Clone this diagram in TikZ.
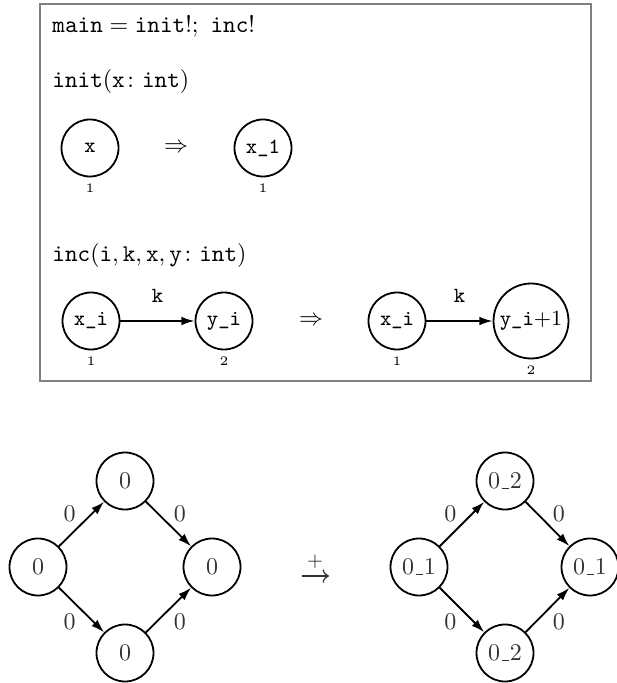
\documentclass[tikz,border=0pt]{standalone}
\usepackage{amsmath}
\usetikzlibrary{arrows.meta}
\newcommand\myus{\leavevmode\kern.06em\vbox{\hrule width.3em height 0.4pt}\kern.04em}
\begin{document}
\begin{tikzpicture}[x=0.41667pt,y=-0.41667pt,
  gnode/.style={circle,draw,line width=0.75pt,minimum size=23.75pt,inner sep=1pt,font=\small\ttfamily},
  dnode/.style={circle,draw,line width=0.75pt,minimum size=23.75pt,inner sep=1pt,text=black!80},
  tag/.style={font=\fontsize{5.4}{6}\selectfont,inner sep=1pt,label distance=1.5pt},
  tip/.style={-{Latex[length=5.5pt,width=3.6pt]},line width=0.75pt},
  elab/.style={text=black!80,inner sep=0pt},
  klab/.style={font=\small\ttfamily,above=3.8pt},
  head/.style={anchor=base west,inner sep=0pt},
]
\useasboundingbox (0,0) rectangle (616,683);
\draw[black!50,line width=0.6pt] (40,4) rectangle (591,381);
% headings
\node[head] (hmain) at (52,33) {$\mathtt{main} = \mathtt{init}!;\ \mathtt{inc}!$};
\node[head] (hinit) at (52,88) {$\mathtt{init}(\mathtt{x}\colon \mathtt{int})$};
\node[head] (hinc) at (52,262) {$\mathtt{inc}(\mathtt{i},\mathtt{k},\mathtt{x},\mathtt{y}\colon \mathtt{int})$};
% init rule
\node[gnode,label={[tag]below:1}] (a1) at (90,148) {x};
\node (ra) at (176,148) {$\Rightarrow$};
\node[gnode,label={[tag]below:1}] (a2) at (263,148) {x\_1};
% inc rule
\node[gnode,label={[tag]below:1}] (b1) at (91,321) {x\_i};
\node[gnode,label={[tag]below:2}] (b2) at (224,321) {y\_i};
\draw[tip] (b1) -- node[klab] {k} (b2);
\node (rb) at (311,321) {$\Rightarrow$};
\node[gnode,label={[tag]below:1}] (c1) at (397,321) {x\_i};
\node[gnode,minimum size=31.25pt,label={[tag]below:2}] (c2) at (531,321) {y\_i{\rmfamily +1}};
\draw[tip] (c1) -- node[klab] {k} (c2);
% left graph
\node[dnode] (d1l) at (38,567) {0};
\node[dnode] (d1t) at (125,481) {0};
\node[dnode] (d1b) at (125,653) {0};
\node[dnode] (d1r) at (212,567) {0};
\draw[tip] (d1l) -- node[elab,xshift=-4.9pt,yshift=4.3pt] {0} (d1t);
\draw[tip] (d1l) -- node[elab,xshift=-4.9pt,yshift=-4.8pt] {0} (d1b);
\draw[tip] (d1t) -- node[elab,xshift=4.7pt,yshift=4.3pt] {0} (d1r);
\draw[tip] (d1b) -- node[elab,xshift=4.7pt,yshift=-4.8pt] {0} (d1r);
% transition arrow
\node[text=black!80,inner sep=0pt,font=\fontsize{8}{9}\selectfont] (plus) at (315,562) {$+$};
\coordinate (arrs) at (302,576);
\coordinate (arre) at (329,576);
\draw[black!80,line width=0.5pt,-{Computer Modern Rightarrow}] (arrs) -- (arre);
% right graph
\node[dnode] (d2l) at (419,567) {0\myus 1};
\node[dnode] (d2t) at (505,481) {0\myus 2};
\node[dnode] (d2b) at (505,653) {0\myus 2};
\node[dnode] (d2r) at (590,567) {0\myus 1};
\draw[tip] (d2l) -- node[elab,xshift=-4.9pt,yshift=4.3pt] {0} (d2t);
\draw[tip] (d2l) -- node[elab,xshift=-4.9pt,yshift=-4.8pt] {0} (d2b);
\draw[tip] (d2t) -- node[elab,xshift=4.7pt,yshift=4.3pt] {0} (d2r);
\draw[tip] (d2b) -- node[elab,xshift=4.7pt,yshift=-4.8pt] {0} (d2r);
\end{tikzpicture}
\end{document}
